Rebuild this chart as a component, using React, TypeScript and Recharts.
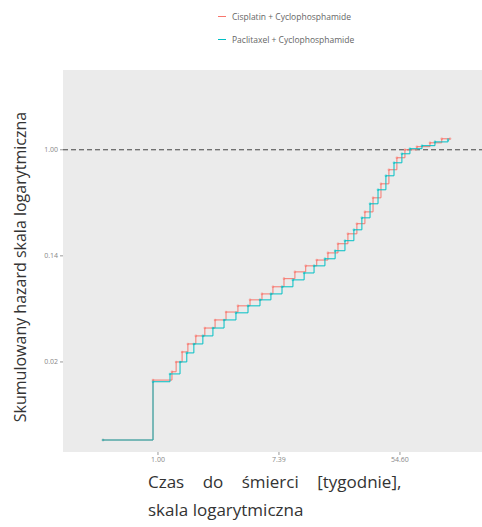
import {
  LineChart,
  Line,
  XAxis,
  YAxis,
  CartesianGrid,
  ReferenceLine,
} from "recharts";

// time in weeks (log scale) and cumulative hazard (log scale)
const timesA = [0.403, 0.921, 1.26, 1.35, 1.49, 1.64, 1.87, 2.17, 2.57, 3.08, 3.75, 4.58, 5.58, 6.69, 8.03, 9.62, 11.5, 13.8, 16.6, 19.6, 23.1, 26.8, 30.6, 35.0, 39.9, 45.5, 51.9, 59.3, 72.3, 89.7, 109, 125];
const hazardA = [0.0042, 0.013, 0.0152, 0.0183, 0.0221, 0.0257, 0.0299, 0.0347, 0.0404, 0.0469, 0.0527, 0.059, 0.066, 0.0755, 0.088, 0.1, 0.112, 0.125, 0.143, 0.17, 0.205, 0.248, 0.31, 0.404, 0.526, 0.686, 0.86, 1.0, 1.06, 1.14, 1.23, 1.23];

const timesB = [0.403, 0.921, 1.22, 1.44, 1.61, 1.81, 2.1, 2.48, 2.98, 3.63, 4.43, 5.4, 6.47, 7.77, 9.31, 11.2, 13.2, 15.8, 18.7, 22.0, 25.5, 29.1, 33.3, 38.0, 43.3, 49.5, 56.4, 64.4, 78.6, 97.4, 121];
const hazardB = [0.0042, 0.0126, 0.0146, 0.0183, 0.0217, 0.0257, 0.0299, 0.0347, 0.0404, 0.0462, 0.0527, 0.059, 0.066, 0.0755, 0.086, 0.098, 0.112, 0.128, 0.149, 0.18, 0.221, 0.277, 0.361, 0.47, 0.612, 0.782, 0.927, 1.02, 1.08, 1.16, 1.21];

const seriesNames = ["Cisplatin + Cyclophosphamide", "Paclitaxel + Cyclophosphamide"];
const seriesColors = ["#F8766D", "#00BFC4"];

const xTicks = [1, 7.389, 54.598];
const xTickLabels = ["1.00", "7.39", "54.60"];
const yTicks = [0.0183, 0.1353, 1];
const yTickLabels = ["0.02", "0.14", "1.00"];

const dataA = timesA.map((t, i) => ({ t, h: hazardA[i] }));
const dataB = timesB.map((t, i) => ({ t, h: hazardB[i] }));

const fmtX = (v: number) => xTickLabels[xTicks.indexOf(v)] ?? "";
const fmtY = (v: number) => yTickLabels[yTicks.indexOf(v)] ?? "";

export default function App() {
  return (
    <div
      style={{
        position: "absolute",
        left: 0,
        top: 0,
        width: 482,
        height: 527,
        background: "#fff",
        fontFamily: "'Open Sans', sans-serif",
      }}
    >
      <LineChart
        width={482}
        height={527}
        margin={{ top: 70, right: 0, left: 0, bottom: 55 }}
      >
        <CartesianGrid fill="#ebebeb" stroke="#f4f4f4" horizontal={false} vertical={false} />
        <XAxis
          type="number"
          dataKey="t"
          scale="log"
          domain={[0.208, 212]}
          allowDataOverflow
          ticks={xTicks}
          tickFormatter={fmtX}
          height={20}
          axisLine={false}
          tickLine={{ stroke: "#999" }}
          tickSize={3}
          tick={{ fontSize: 7, fill: "#888" }}
        />
        <YAxis
          type="number"
          dataKey="h"
          scale="log"
          domain={[0.00335, 4.5]}
          allowDataOverflow
          ticks={yTicks}
          tickFormatter={fmtY}
          width={63}
          axisLine={false}
          tickLine={{ stroke: "#999" }}
          tickSize={3}
          tick={{ fontSize: 7, fill: "#888" }}
        />
        <ReferenceLine y={1} stroke="#444" strokeDasharray="5 3" strokeWidth={1} />
        <Line
          data={dataA}
          dataKey="h"
          name={seriesNames[0]}
          type="stepAfter"
          stroke={seriesColors[0]}
          strokeWidth={1}
          dot={{ r: 1.3, fill: seriesColors[0], stroke: "none", fillOpacity: 0.6 }}
          isAnimationActive={false}
        />
        <Line
          data={dataB}
          dataKey="h"
          name={seriesNames[1]}
          type="stepAfter"
          stroke={seriesColors[1]}
          strokeWidth={1}
          dot={{ r: 1.3, fill: seriesColors[1], stroke: "none", fillOpacity: 0.6 }}
          isAnimationActive={false}
        />
      </LineChart>

      {/* legend */}
      {seriesNames.map((name, i) => (
        <div
          key={name}
          style={{
            position: "absolute",
            left: 218,
            top: 11 + i * 23,
            display: "flex",
            alignItems: "center",
            fontSize: 8.5,
            color: "#666",
            whiteSpace: "nowrap",
          }}
        >
          <span
            style={{
              display: "inline-block",
              width: 8,
              height: 1.5,
              background: seriesColors[i],
              marginRight: 6,
            }}
          />
          {name}
        </div>
      ))}

      {/* y axis title */}
      <div
        style={{
          position: "absolute",
          left: 20,
          top: 267,
          transform: "translate(-50%, -50%) rotate(-90deg)",
          whiteSpace: "nowrap",
          fontSize: 16,
          color: "#333",
        }}
      >
        Skumulowany hazard skala logarytmiczna
      </div>

      {/* x axis title */}
      <div
        style={{
          position: "absolute",
          left: 148,
          top: 468,
          fontSize: 17,
          lineHeight: "28px",
          color: "#333",
        }}
      >
        <div style={{ wordSpacing: 14 }}>Czas do śmierci [tygodnie],</div>
        <div>skala logarytmiczna</div>
      </div>
    </div>
  );
}
